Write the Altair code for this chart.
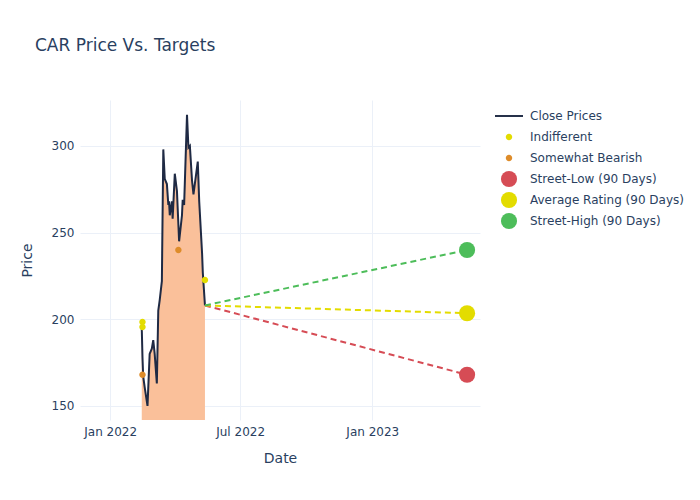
import altair as alt
import pandas as pd

# Close prices
price_dates = [
    "2022-02-14", "2022-02-15", "2022-02-16", "2022-02-18", "2022-02-22",
    "2022-02-25", "2022-02-28", "2022-03-02", "2022-03-04", "2022-03-07",
    "2022-03-09", "2022-03-11", "2022-03-14", "2022-03-16", "2022-03-18",
    "2022-03-21", "2022-03-23", "2022-03-24", "2022-03-25", "2022-03-28",
    "2022-03-29", "2022-04-01", "2022-04-04", "2022-04-07", "2022-04-11",
    "2022-04-12", "2022-04-13", "2022-04-14", "2022-04-18", "2022-04-20",
    "2022-04-22", "2022-04-25", "2022-04-27", "2022-05-03", "2022-05-05",
    "2022-05-09", "2022-05-10", "2022-05-13",
]
price_values = [
    195, 178, 167, 161, 150,
    180, 183, 188, 180, 163,
    205, 211, 222, 298, 281,
    278, 266, 268, 260, 268,
    258, 284, 274, 245, 260,
    269, 267, 266, 318, 299,
    300, 280, 272, 291, 268,
    238, 227, 208,
]

indifferent_dates = ["2022-02-15", "2022-02-15", "2022-05-13"]
indifferent_values = [198.5, 195.5, 222.7]
bearish_dates = ["2022-02-15", "2022-04-06"]
bearish_values = [168, 240]

target_names = ["Street-Low (90 Days)", "Average Rating (90 Days)", "Street-High (90 Days)"]
target_values = [168, 203.5, 240]
target_date = "2023-05-13"
last_date = "2022-05-13"
last_close = 208

series_names = ["Close Prices", "Indifferent", "Somewhat Bearish"] + target_names
series_colors = ["#1f2a44", "#e3dc00", "#de8c2a", "#d64c55", "#e3dc00", "#4dbd5a"]
# invisible zero-length segments at y=-1 and y=1 give every symbol the same height
pad = "M0,-1L0,-1M0,1L0,1"
line_symbol = pad + "M-1.74,-0.12H1.74V0.12H-1.74Z"
small_dot = pad + "M0.4,0A0.4,0.4,0,1,1,-0.4,0A0.4,0.4,0,1,1,0.4,0Z"
series_shapes = [line_symbol, small_dot, small_dot, "circle", "circle", "circle"]
series_sizes = [260] * 6

FONT = "DejaVu Sans"
TXT = "#2a3f5f"
GRID = "#ebf0f8"

price_df = pd.DataFrame({"date": price_dates, "value": price_values})

pts = []
for d, v in zip(indifferent_dates, indifferent_values):
    pts.append({"series": "Indifferent", "date": d, "value": v})
for d, v in zip(bearish_dates, bearish_values):
    pts.append({"series": "Somewhat Bearish", "date": d, "value": v})
for n, v in zip(target_names, target_values):
    pts.append({"series": n, "date": target_date, "value": v})
pts_df = pd.DataFrame(pts)

x_scale = alt.Scale(domain=["2021-11-20", "2023-05-31"], nice=False)
y_scale = alt.Scale(domain=[141.9, 326.5], nice=False, zero=False)

x_axis = alt.Axis(
    title="Date",
    values=[alt.DateTime(year=2022, month=1, date=1),
            alt.DateTime(year=2022, month=7, date=1),
            alt.DateTime(year=2023, month=1, date=1)],
    format="%b %Y",
)
y_axis = alt.Axis(title="Price", values=[150, 200, 250, 300])

X = alt.X("date:T", scale=x_scale, axis=x_axis)
Y = alt.Y("value:Q", scale=y_scale, axis=y_axis)

area = alt.Chart(price_df).mark_area(color="#fac09a", opacity=1, clip=True).encode(
    x=X, y=Y, y2=alt.datum(100)
)
line = alt.Chart(price_df).mark_line(color="#1f2a44", strokeWidth=2).encode(x=X, y=Y)

dash_layers = []
for n, v, c in zip(target_names, target_values, series_colors[3:]):
    ddf = pd.DataFrame({"date": [last_date, target_date], "value": [last_close, v]})
    dash_layers.append(
        alt.Chart(ddf).mark_line(color=c, strokeDash=[6, 4], strokeWidth=2).encode(x=X, y=Y)
    )

points = alt.Chart(pts_df).mark_point(filled=True, opacity=1).encode(
    x=X,
    y=Y,
    color=alt.Color(
        "series:N",
        scale=alt.Scale(domain=series_names, range=series_colors),
        legend=alt.Legend(
            title=None, orient="none", legendX=420, legendY=7,
            labelFont=FONT, labelFontSize=12, labelColor=TXT,
            rowPadding=-5, labelOffset=12, symbolOpacity=1,
        ),
    ),
    size=alt.Size("series:N",
                  scale=alt.Scale(type="ordinal", domain=series_names, range=series_sizes)),
    shape=alt.Shape("series:N", scale=alt.Scale(domain=series_names, range=series_shapes)),
)

chart = alt.layer(area, line, *dash_layers, points).properties(
    width=400,
    height=320,
    autosize=alt.AutoSizeParams(type="none"),
    padding={"left": 72, "top": 92, "right": 210, "bottom": 72},
    title=alt.TitleParams(
        "CAR Price Vs. Targets", anchor="start", frame="group", font=FONT, fontSize=17,
        fontWeight="normal", color=TXT, dx=-45, offset=45,
    ),
).configure_view(stroke=None).configure_axis(
    domain=False, ticks=False, grid=True, gridColor=GRID, gridWidth=1,
    labelFont=FONT, labelFontSize=12, labelColor=TXT,
    titleFont=FONT, titleFontSize=14, titleColor=TXT, titleFontWeight="normal",
    labelPadding=6,
).configure_axisX(titlePadding=14).configure_axisY(titlePadding=17)

chart.save("out.html", embed_options={"renderer": "svg", "actions": False})
